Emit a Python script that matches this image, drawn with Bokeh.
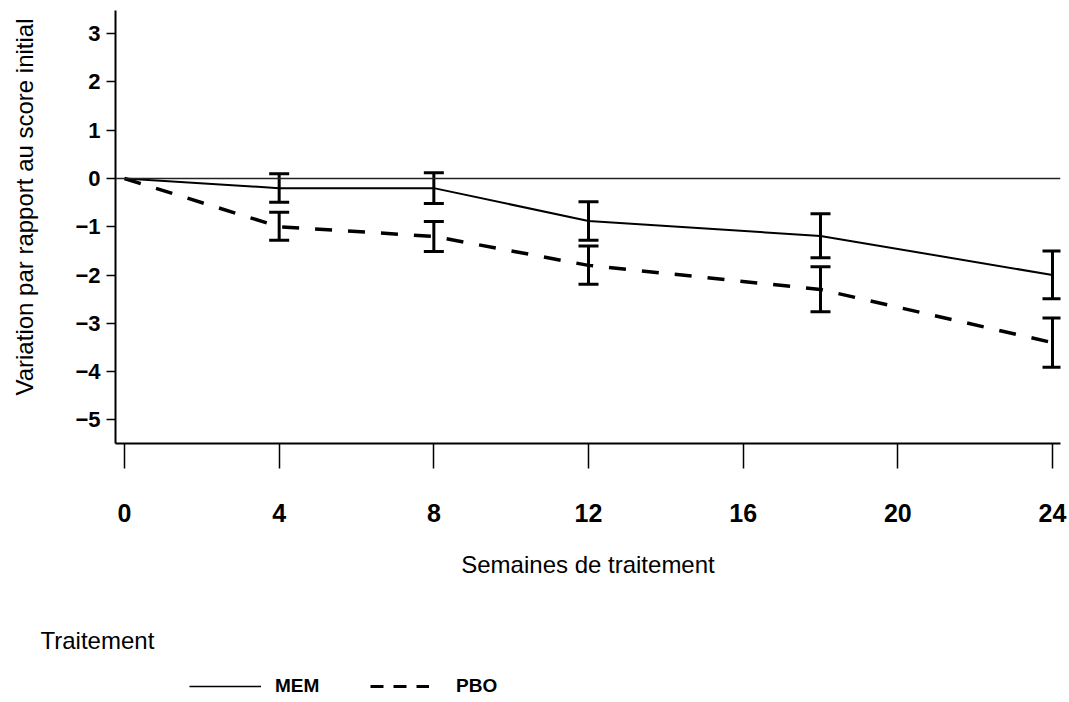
from bokeh.plotting import figure
from bokeh.layouts import column
from bokeh.models import (ColumnDataSource, Whisker, TeeHead, Span, Legend, Title,
                          LegendItem, FixedTicker, Range1d)
from bokeh.embed import file_html
from bokeh.resources import INLINE

# ---- data ----
weeks = [0, 4, 8, 12, 18, 24]
mem = [0, -0.2, -0.2, -0.88, -1.19, -2.0]
pbo = [0, -1.0, -1.2, -1.8, -2.3, -3.4]

err_weeks = [4, 8, 12, 18, 24]
mem_lo = [-0.49, -0.52, -1.28, -1.64, -2.49]
mem_hi = [0.10, 0.12, -0.48, -0.73, -1.50]
pbo_lo = [-1.28, -1.51, -2.19, -2.76, -3.91]
pbo_hi = [-0.70, -0.89, -1.40, -1.83, -2.89]

x_ticks = [0, 4, 8, 12, 16, 20, 24]
y_ticks = [-5, -4, -3, -2, -1, 0, 1, 2, 3]
y_tick_labels = {v: (("\u2212" + str(-v)) if v < 0 else str(v)) for v in y_ticks}

series_names = ["MEM", "PBO"]
x_title = "Semaines de traitement"
y_title = "Variation par rapport au score initial"
legend_title = "Traitement"

FONT = "Liberation Sans"
W = 1069
H_MAIN, H_LEG = 610, 92
FRAME_LEFT = 115

p = figure(width=W, height=H_MAIN, output_backend="svg", toolbar_location=None,
           x_range=Range1d(-0.233, 24.207), y_range=Range1d(-5.49, 3.48),
           min_border_left=FRAME_LEFT, min_border_right=9, min_border_top=10,
           min_border_bottom=H_MAIN - 443)
p.outline_line_color = None
p.xgrid.grid_line_color = None
p.ygrid.grid_line_color = None
p.background_fill_color = "white"

# axes
p.xaxis.ticker = FixedTicker(ticks=x_ticks)
p.yaxis.ticker = FixedTicker(ticks=y_ticks)
p.yaxis.major_label_overrides = y_tick_labels
for ax in (p.xaxis[0], p.yaxis[0]):
    ax.axis_line_width = 2
    ax.axis_line_color = "black"
    ax.major_tick_line_color = "black"
    ax.major_tick_line_width = 1.5
    ax.minor_tick_line_color = None
    ax.major_tick_in = 0
    ax.major_label_text_font = FONT
    ax.major_label_text_font_style = "bold"
    ax.major_label_text_color = "black"
    ax.axis_label_text_font = FONT
    ax.axis_label_text_font_style = "normal"
    ax.axis_label_text_font_size = "24px"
    ax.axis_label_text_color = "black"

p.xaxis.major_tick_out = 25
p.xaxis.major_label_standoff = 35
p.xaxis.major_label_text_font_size = "25px"
p.xaxis.axis_label = x_title
p.xaxis.axis_label_standoff = 26

p.yaxis.major_tick_out = 9
p.yaxis.major_label_standoff = 6
p.yaxis.major_label_text_font_size = "22px"
# leading no-break spaces shift the centred title upwards, as in the reference
p.yaxis.axis_label = "\u00a0" * 6 + y_title
p.yaxis.axis_label_standoff = 34

# zero reference line
p.add_layout(Span(location=0, dimension="width", line_color="#222222", line_width=1.5))

# series lines
r_mem = p.line(weeks, mem, line_color="black", line_width=2)
r_pbo = p.line(weeks, pbo, line_color="black", line_width=3.5, line_dash="17 16")

# error bars
for lo, hi in ((mem_lo, mem_hi), (pbo_lo, pbo_hi)):
    src = ColumnDataSource(dict(x=err_weeks, lo=lo, hi=hi))
    w = Whisker(base="x", lower="lo", upper="hi", source=src,
                line_color="black", line_width=3,
                upper_head=TeeHead(size=20, line_width=3, line_color="black"),
                lower_head=TeeHead(size=20, line_width=3, line_color="black"))
    p.add_layout(w)

# ---- legend strip below (frame aligned with the main plot) ----
q = figure(width=W, height=H_LEG, output_backend="svg", toolbar_location=None,
           x_range=Range1d(0, 1), y_range=Range1d(0, 1),
           x_axis_type=None, y_axis_type=None,
           min_border_left=FRAME_LEFT, min_border_right=9, min_border_top=43,
           min_border_bottom=0)
q.outline_line_color = None
q.xgrid.grid_line_color = None
q.ygrid.grid_line_color = None
q.title = Title(text=legend_title, align="left", offset=40 - FRAME_LEFT, standoff=0,
                text_font=FONT, text_font_size="24px", text_font_style="normal",
                text_color="black")

nan = float("nan")
leg_mem = q.line([nan], [nan], line_color="black", line_width=1.5)
leg_pbo = q.line([nan], [nan], line_color="black", line_width=3, line_dash="13 10")

def make_legend(name, rend, x, gw, standoff):
    lg = Legend(items=[LegendItem(label=name, renderers=[rend])], location=(x, 5),
                orientation="horizontal", glyph_width=gw, glyph_height=20,
                label_height=20, label_standoff=standoff, padding=0, margin=0,
                spacing=0, border_line_color=None, background_fill_alpha=0,
                label_text_font=FONT, label_text_font_style="bold",
                label_text_font_size="19px", label_text_color="black")
    q.add_layout(lg)

make_legend(series_names[0], leg_mem, 189 - FRAME_LEFT, 72, 14)
make_legend(series_names[1], leg_pbo, 370 - FRAME_LEFT, 59, 27)

layout = column(p, q, spacing=0)
open("out.html", "w").write(file_html(layout, INLINE))
